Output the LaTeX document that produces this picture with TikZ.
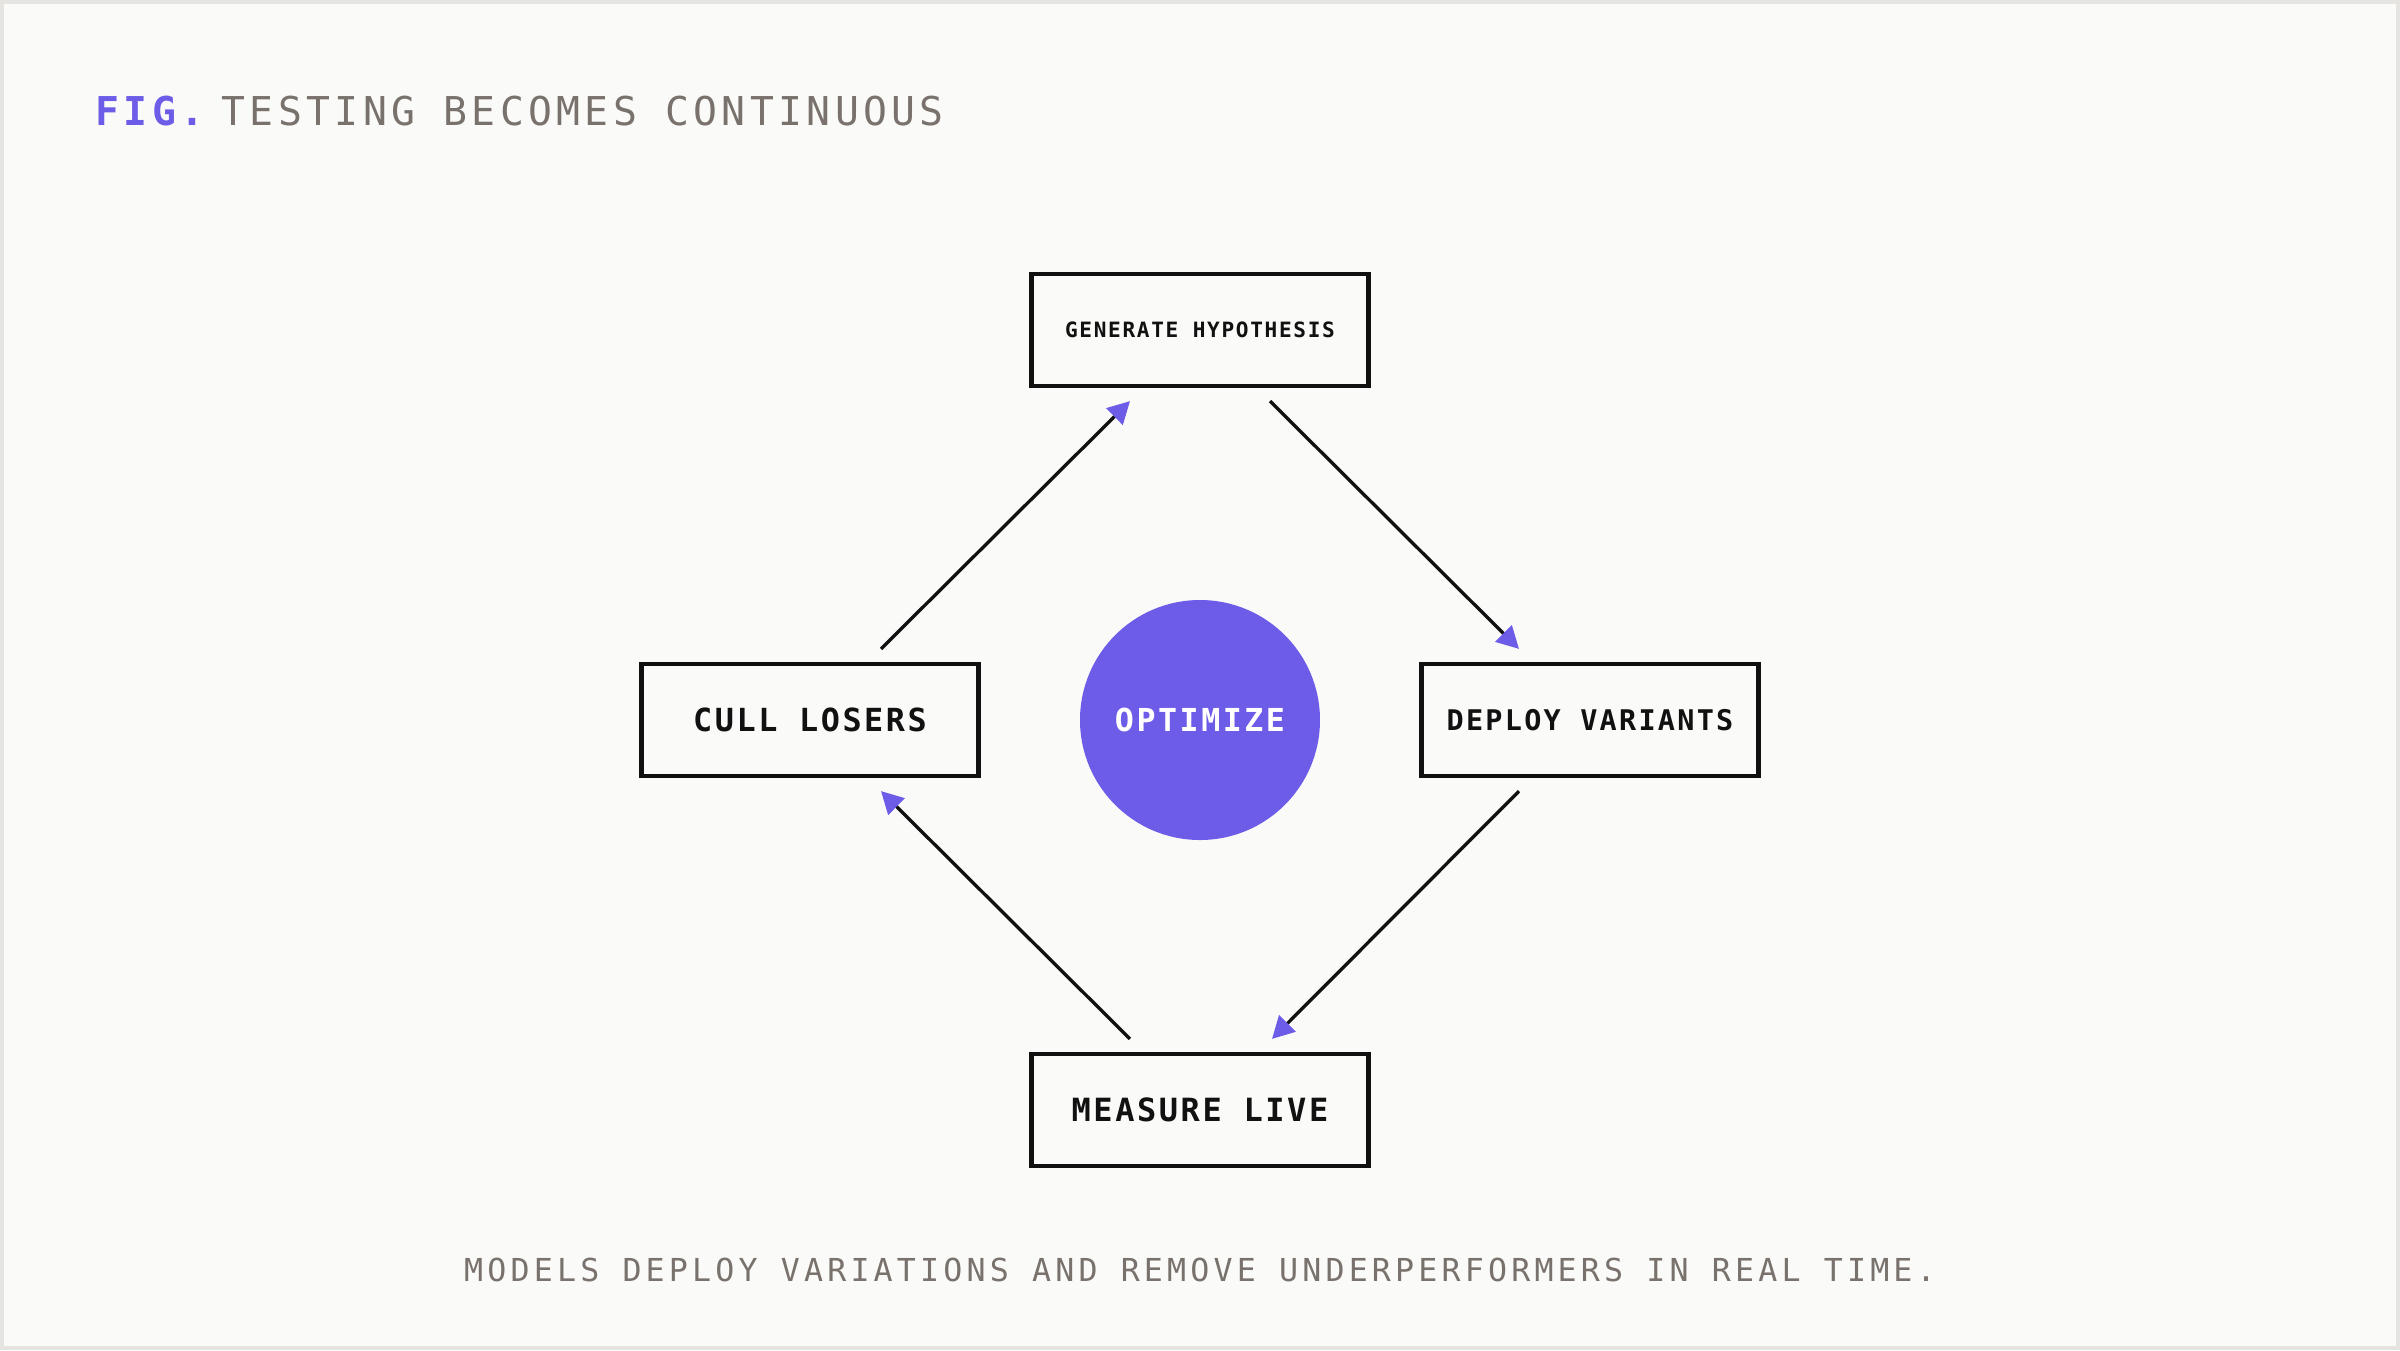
\documentclass[tikz,border=0pt]{standalone}
\usepackage{fontspec}
\usepackage{xcolor}
\usetikzlibrary{arrows.meta,positioning}
\definecolor{tpurple}{HTML}{6C5CE7}
\definecolor{tgray}{HTML}{78716C}
\definecolor{tink}{HTML}{111111}
\definecolor{tpaper}{HTML}{FAFAF8}
\definecolor{tframe}{HTML}{E5E4E1}
\newfontfamily\monofont[LetterSpace=8]{DejaVu Sans Mono}
\newfontfamily\headfont[LetterSpace=11]{DejaVu Sans Mono}
\newfontfamily\notefont[LetterSpace=13.2]{DejaVu Sans Mono}

\begin{document}
\begin{tikzpicture}[
    stage/.style={rectangle, draw=tink, line width=1.2pt, fill=tpaper, minimum width=3.37cm, minimum height=1.12cm, inner sep=0pt, text=tink},
    lbl/.style={font=\monofont\bfseries\fontsize{#1}{#1}\selectfont},
    arr/.style={-{Triangle[length=2.2mm, width=2.3mm, color=tpurple]}, line width=0.95pt, draw=tink}
]
    % Canvas
    \useasboundingbox (-12,-6.3) rectangle (12,7.2);
    \fill[tpaper] (-12,-6.3) rectangle (12,7.2);
    \draw[tframe, line width=1.2pt] (-11.98,-6.28) rectangle (11.98,7.18);

    % Heading
    \node[anchor=base west, inner sep=0pt, text=tpurple, font=\headfont\bfseries\fontsize{11.3pt}{11.3pt}\selectfont] (fig) at (-11.05,5.95) {FIG.};
    \node[anchor=base west, inner sep=0pt, text=tgray, font=\headfont\fontsize{11.3pt}{11.3pt}\selectfont] (title) at (-9.79,5.95) {TESTING BECOMES CONTINUOUS};

    % Cycle
    \node[stage, lbl=6pt] (gen) at (0,3.9) {GENERATE HYPOTHESIS};
    \node[stage, lbl=8.1pt] (deploy) at (3.9,0) {DEPLOY VARIANTS};
    \node[stage, lbl=9.1pt] (measure) at (0,-3.9) {MEASURE LIVE};
    \node[stage, lbl=9.05pt] (cull) at (-3.9,0) {CULL LOSERS};
    \node[circle, fill=tpurple, minimum size=2.4cm, inner sep=0pt, text=white, font=\monofont\bfseries\fontsize{9pt}{9pt}\selectfont] (opt) at (0,0) {OPTIMIZE};

    % Arrows
    \draw[arr] ([xshift=7mm, yshift=-1.3mm]gen.south) -- ([xshift=-7.1mm, yshift=1.3mm]deploy.north);
    \draw[arr] ([xshift=-7.1mm, yshift=-1.3mm]deploy.south) -- ([xshift=7.2mm, yshift=1.3mm]measure.north);
    \draw[arr] ([xshift=-7mm, yshift=1.3mm]measure.north) -- ([xshift=7.1mm, yshift=-1.3mm]cull.south);
    \draw[arr] ([xshift=7.1mm, yshift=1.3mm]cull.north) -- ([xshift=-7mm, yshift=-1.3mm]gen.south);

    % Caption
    \node[anchor=base, inner sep=0pt, text=tgray, font=\notefont\fontsize{9pt}{9pt}\selectfont] (caption) at (0,-5.61) {MODELS DEPLOY VARIATIONS AND REMOVE UNDERPERFORMERS IN REAL TIME.};
\end{tikzpicture}
\end{document}
